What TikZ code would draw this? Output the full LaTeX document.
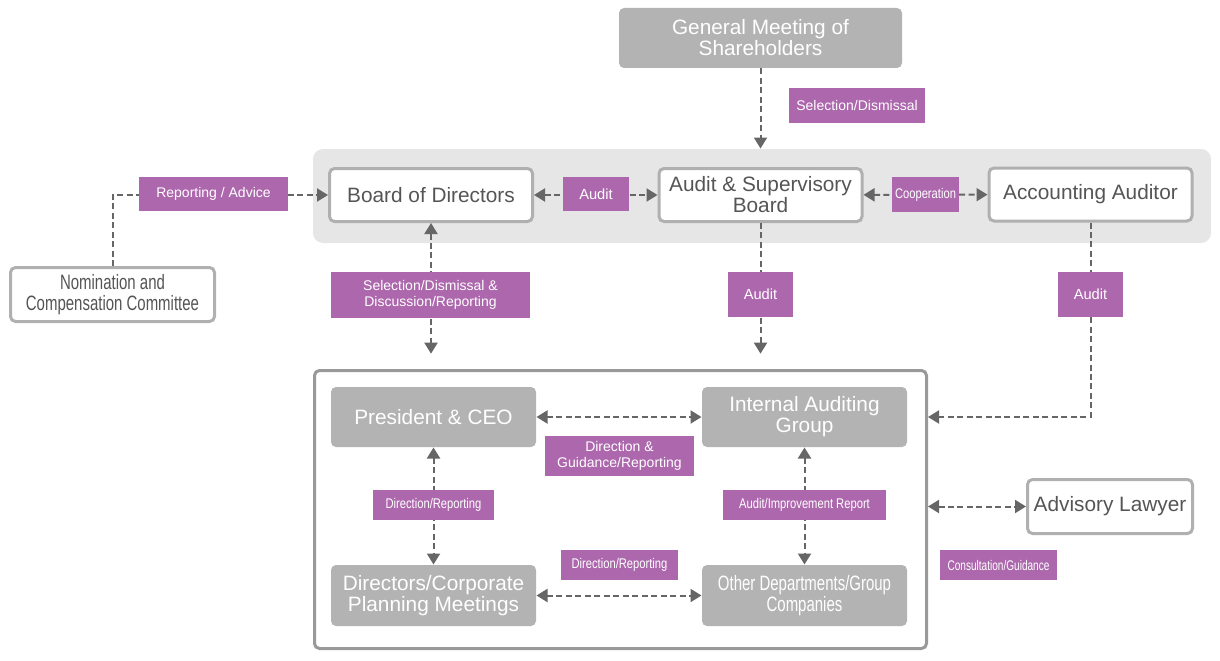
\documentclass[tikz,border=0pt]{standalone}
\usepackage{fontspec}
\setmainfont{Liberation Sans}
\newfontfamily\narrowfont[FakeStretch=0.8]{Liberation Sans}
\newfontfamily\narrowerfont[FakeStretch=0.72]{Liberation Sans}
\usetikzlibrary{arrows.meta}

\definecolor{labelpurple}{RGB}{173,103,173}
\definecolor{boxgray}{RGB}{179,179,179}
\definecolor{bordergray}{RGB}{176,176,176}
\definecolor{framegray}{RGB}{153,153,153}
\definecolor{bandgray}{RGB}{230,230,230}
\definecolor{arrowgray}{RGB}{102,102,102}
\definecolor{textgray}{RGB}{85,85,85}

\newcommand{\orgboxfont}{\fontsize{15.6pt}{15.75pt}\selectfont}
\newcommand{\orglblfont}{\fontsize{10.5pt}{12pt}\selectfont}

\tikzset{every picture/.style={line width=0.75pt}}
\tikzset{
  graybox/.style={fill=boxgray, rounded corners=3.75pt, text=white, align=center, font=\orgboxfont, inner sep=0pt},
  whitebox/.style={draw=bordergray, line width=2.25pt, fill=white, rounded corners=3.75pt, text=textgray, align=center, font=\orgboxfont, inner sep=0pt},
  lbl/.style={fill=labelpurple, text=white, align=center, font=\orglblfont, inner sep=0pt},
  link/.style={draw=arrowgray, line width=1.5pt, dash pattern=on 4.5pt off 2.6pt},
}

\begin{document}
\begin{tikzpicture}[x=0.75pt,y=0.75pt,yscale=-1,xscale=1, >={Triangle[length=8.25pt,width=9.75pt]}]
        \useasboundingbox (0,0) rectangle (1220,660);

        %Shape: Band [id:band]
        \node [fill=bandgray, rounded corners=7.5pt, minimum width=673.5pt, minimum height=70.5pt] (band) at (762,196) {};
        %Shape: Frame [id:inner]
        \node [draw=framegray, line width=2.25pt, fill=white, rounded corners=3.75pt, minimum width=459pt, minimum height=208.5pt] (inner) at (620.5,509.5) {};

        % Boxes
        \node [graybox, minimum width=212.25pt, minimum height=45pt] (gm) at (760.5,38) {General Meeting of\\Shareholders};
        \node [whitebox, minimum width=152.25pt, minimum height=39.75pt] (bod) at (431,195) {Board of Directors};
        \node [whitebox, minimum width=152.25pt, minimum height=39.75pt] (asb) at (760.5,195) {Audit \& Supervisory\\Board};
        \node [whitebox, minimum width=152.25pt, minimum height=39.75pt] (aa) at (1090.5,194.5) {Accounting Auditor};
        \node [whitebox, minimum width=153pt, minimum height=40.5pt, font=\orgboxfont\narrowerfont] (nom) at (112.5,294.5) {Nomination and\\Compensation Committee};
        \node [graybox, minimum width=153.75pt, minimum height=45pt] (ceo) at (433.5,417) {President \& CEO};
        \node [graybox, minimum width=153.75pt, minimum height=45pt] (iag) at (804.5,417) {Internal Auditing\\Group};
        \node [graybox, minimum width=153.75pt, minimum height=45.75pt] (dcpm) at (433.5,595.5) {Directors/Corporate\\Planning Meetings};
        \node [graybox, minimum width=153.75pt, minimum height=45.75pt, font=\orgboxfont\narrowerfont] (odgc) at (804.5,595.5) {Other Departments/Group\\Companies};
        \node [whitebox, minimum width=123.75pt, minimum height=40.5pt] (al) at (1110,506.5) {Advisory Lawyer};

        % Connectors
        \draw [link,->] (gm.south) -- (gm.south |- band.north);
        \draw [link,<->] (bod) -- (asb);
        \draw [link,<->] (asb) -- (aa);
        \draw [link,->] (nom.north) |- (bod.west);
        \draw [link,<->, shorten >=11.5pt] (bod.south) -- (bod.south |- inner.north);
        \draw [link,->, shorten >=11.5pt] (asb.south) -- (asb.south |- inner.north);
        \draw [link,->] (aa.south) |- (inner.east |- iag);
        \draw [link,<->] (ceo) -- (iag);
        \draw [link,<->] (dcpm) -- (odgc);
        \draw [link,<->] (ceo) -- (dcpm);
        \draw [link,<->] (iag) -- (odgc);
        \draw [link,<->] (inner.east |- al) -- (al.west);

        % Labels
        \node [lbl, minimum width=102pt, minimum height=26.25pt] (lSel) at (857,105.5) {Selection/Dismissal};
        \node [lbl, minimum width=111.75pt, minimum height=25.5pt] (lRep) at (213.5,194) {Reporting / Advice};
        \node [lbl, minimum width=49.5pt, minimum height=25.5pt, font=\fontsize{11pt}{12pt}\selectfont] (lAudA) at (596,194) {Audit};
        \node [lbl, minimum width=50.25pt, minimum height=26.25pt, font=\orglblfont\narrowfont] (lCoop) at (925.5,194.5) {Cooperation};
        \node [lbl, minimum width=149.25pt, minimum height=34.5pt] (lSelDis) at (430.5,295) {Selection/Dismissal \&\\Discussion/Reporting};
        \node [lbl, minimum width=48.75pt, minimum height=33.75pt, font=\fontsize{11pt}{12pt}\selectfont] (lAudB) at (760.5,294.5) {Audit};
        \node [lbl, minimum width=48.75pt, minimum height=33.75pt, font=\fontsize{11pt}{12pt}\selectfont] (lAudC) at (1090.5,294.5) {Audit};
        \node [lbl, minimum width=111.75pt, minimum height=30pt] (lDirG) at (619.5,456) {Direction \&\\Guidance/Reporting};
        \node [lbl, minimum width=90.75pt, minimum height=22.5pt, font=\orglblfont\narrowfont] (lDirA) at (433.5,505) {Direction/Reporting};
        \node [lbl, minimum width=122.25pt, minimum height=22.5pt, font=\orglblfont\narrowfont] (lAir) at (804.5,505) {Audit/Improvement Report};
        \node [lbl, minimum width=87.75pt, minimum height=22.5pt, font=\orglblfont\narrowfont] (lDirB) at (619.5,565) {Direction/Reporting};
        \node [lbl, minimum width=87.75pt, minimum height=22.5pt, font=\orglblfont\narrowerfont] (lCons) at (998.5,565) {Consultation/Guidance};

\end{tikzpicture}
\end{document}
